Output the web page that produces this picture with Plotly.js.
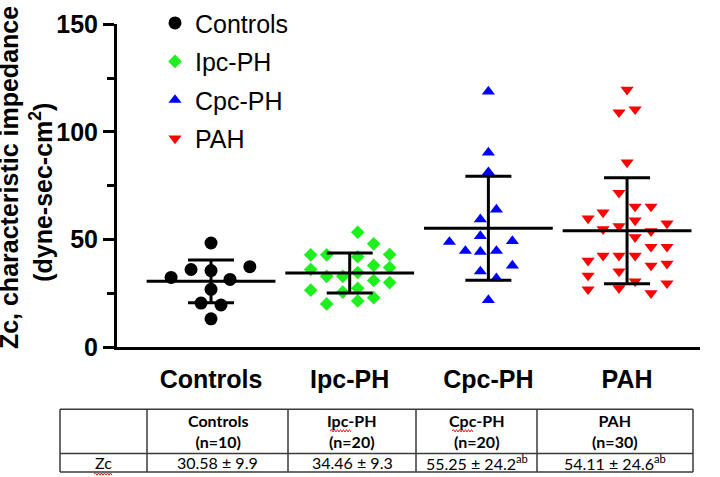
<!DOCTYPE html>
<html>
<head>
<meta charset="utf-8">
<script src="https://cdn.plot.ly/plotly-3.0.1.min.js"></script>
<style>
  html, body { margin: 0; padding: 0; background: #fff; }
  #plot { width: 720px; height: 477px; }
</style>
</head>
<body>
<div id="plot"></div>
<script>
// ---------------- data ----------------
const categories = ['Controls', 'Ipc-PH', 'Cpc-PH', 'PAH'];

const controlsY  = [48.4, 36.1, 35.6, 37.4, 32.4, 31.5, 26.9, 20.5, 19.6, 13.2];
const controlsDx = [0, -0.144, 0, 0.28, -0.288, 0.137, 0, -0.072, 0.072, 0];

const ipcY  = [42.9, 36.1, 26.5, 42.9, 32.9, 20.1, 32.9, 25.6, 53.4, 42.0, 34.7, 27.4, 21.5, 48, 38, 31, 23, 43, 37, 30];
const ipcDx = [-0.281, -0.281, -0.281, -0.166, -0.166, -0.166, -0.05, -0.05, 0.058, 0.058, 0.058, 0.058, 0.058, 0.173, 0.173, 0.173, 0.173, 0.288, 0.288, 0.288];

const cpcY  = [118.7, 90.4, 81.3, 63.9, 59.4, 51.6, 48.9, 49.3, 44.7, 44.3, 44.7, 37.9, 35.2, 32.0, 21.9];
const cpcDx = [0, 0, 0, 0.058, -0.058, -0.058, -0.281, 0.173, -0.166, -0.058, 0.058, 0.173, -0.058, 0.058, 0];

const pahY  = [119.6, 109.1, 110.5, 85.8, 71.7, 65.3, 65.3, 62.6, 59.8, 58.9, 56.2, 54.8, 57.5, 53.9, 51.1, 46.6, 46.6, 40.2, 42.5, 42.5, 42.5, 37.9, 38.8, 35.2, 33.3, 30.6, 29.7, 26.9, 27.4, 25.1];
const pahDx = [0, -0.058, 0.058, 0, -0.058, 0.058, 0.173, -0.173, -0.281, 0.058, -0.058, -0.173, 0.288, 0.173, 0.058, 0.173, 0.288, -0.281, -0.173, -0.058, 0.058, 0.173, 0.288, -0.058, -0.281, 0.058, 0.288, -0.281, -0.058, 0.173];

const meanVals = [30.58, 34.46, 55.25, 54.11];
const sdVals   = [9.9, 9.3, 24.2, 24.6];
const nVals    = [10, 20, 20, 30];
const sigMarks = ['', '', 'ab', 'ab'];
const rowLabel = 'Zc';

const yTickVals = [0, 50, 100, 150];
const yMinorVals = [25, 75, 125];

// ---------------- helpers ----------------
const W = 720, H = 477;
const px = x => x / W;
const py = y => 1 - y / H;
const FONT = 'Liberation Sans, Arial, sans-serif';
const TFONT = 'Lato, Carlito, Calibri, sans-serif';

function groupTrace(idx, ys, dxs, color, symbol, size) {
  return {
    type: 'scatter', mode: 'markers',
    name: categories[idx], legendgroup: categories[idx],
    x: dxs.map(d => idx + d), y: ys,
    marker: { color: color, symbol: symbol, size: size, line: { width: 0 } },
    cliponaxis: false
  };
}

const traces = [
  groupTrace(0, controlsY, controlsDx, '#000000', 'circle', 13),
  groupTrace(1, ipcY, ipcDx, '#1EF01E', 'diamond', 10.5),
  groupTrace(2, cpcY, cpcDx, '#0000FF', 'triangle-up', 11.5),
  groupTrace(3, pahY, pahDx, '#FF0000', 'triangle-down', 11.5),
  {
    type: 'scatter', mode: 'markers', showlegend: false,
    x: categories.map((c, i) => i), y: meanVals,
    marker: { symbol: 'line-ew', size: 92, color: '#000', line: { width: 3, color: '#000' } },
    error_y: { type: 'data', array: sdVals, visible: true, width: 23, thickness: 3, color: '#000' },
    cliponaxis: false
  }
];

// ---------------- table (shapes + annotations) ----------------
const colX = [60, 147, 288, 416, 537, 693];
const rowY = [408, 453, 472];
const shapes = [];
rowY.forEach(y => shapes.push({ type: 'line', xref: 'paper', yref: 'paper',
  x0: px(colX[0]), x1: px(colX[colX.length - 1]), y0: py(y), y1: py(y),
  line: { color: '#3a3a3a', width: 1.5 } }));
colX.forEach(x => shapes.push({ type: 'line', xref: 'paper', yref: 'paper',
  x0: px(x), x1: px(x), y0: py(rowY[0]), y1: py(rowY[rowY.length - 1]),
  line: { color: '#3a3a3a', width: 1.5 } }));

// spell-check squiggles under "Ipc", "Cpc" and "Zc"
function squiggle(x0, x1, y) {
  let d = 'M ' + px(x0) + ' ' + py(y);
  let up = true;
  for (let x = x0 + 1.5; x <= x1; x += 1.5) {
    d += ' L ' + px(x) + ' ' + py(y + (up ? -1.2 : 1.2));
    up = !up;
  }
  return { type: 'path', xref: 'paper', yref: 'paper', path: d, line: { color: '#e0201c', width: 1 } };
}
shapes.push(squiggle(330, 351, 430));
shapes.push(squiggle(452, 474, 430));
shapes.push(squiggle(94, 112, 474));

const annotations = [
  { text: '<b>Zc, characteristic impedance</b>', textangle: -90, showarrow: false,
    xref: 'paper', yref: 'paper', x: px(9), y: py(173), xanchor: 'center', yanchor: 'middle',
    font: { family: FONT, size: 25, color: '#000' } },
  { text: '<b>(dyne-sec-cm<sup>2</sup>)</b>', textangle: -90, showarrow: false,
    xref: 'paper', yref: 'paper', x: px(41), y: py(188), xanchor: 'center', yanchor: 'middle',
    font: { family: FONT, size: 25, color: '#000' } }
];

categories.forEach((c, i) => {
  const cx = (colX[i + 1] + colX[i + 2]) / 2;
  annotations.push({ text: '<b>' + c + '</b><br><b>(n=' + nVals[i] + ')</b>', showarrow: false,
    xref: 'paper', yref: 'paper', x: px(cx), y: py(430.5), xanchor: 'center', yanchor: 'middle',
    font: { family: TFONT, size: 16, color: '#000' } });
  annotations.push({ text: meanVals[i] + ' \u00B1 ' + sdVals[i] + (sigMarks[i] ? '<sup>' + sigMarks[i] + '</sup>' : ''),
    showarrow: false, xref: 'paper', yref: 'paper', x: px(cx), y: py(462.5),
    xanchor: 'center', yanchor: 'middle', font: { family: TFONT, size: 16, color: '#000' } });
});
annotations.push({ text: rowLabel, showarrow: false, xref: 'paper', yref: 'paper',
  x: px((colX[0] + colX[1]) / 2), y: py(462.5), xanchor: 'center', yanchor: 'middle',
  font: { family: TFONT, size: 16, color: '#000' } });

// ---------------- layout ----------------
const xLeftPx = 117, xRightPx = 700;
const layout = {
  width: W, height: H,
  margin: { l: 0, r: 0, t: 0, b: 0 },
  paper_bgcolor: '#fff', plot_bgcolor: '#fff',
  showlegend: true,
  legend: { x: px(155), y: py(-8), xanchor: 'left', yanchor: 'top',
    font: { family: FONT, size: 25, color: '#000' }, bgcolor: 'rgba(0,0,0,0)',
    tracegroupgap: 3, itemsizing: 'trace' },
  xaxis: {
    domain: [px(xLeftPx), px(xRightPx)],
    range: [-0.678, 3.526],
    tickmode: 'array', tickvals: categories.map((c, i) => i), ticktext: categories,
    showline: true, linecolor: '#000', linewidth: 3,
    ticks: '', showgrid: false, zeroline: false,
    tickfont: { family: FONT, size: 25, color: '#000', weight: 'bold' },
    ticklabelstandoff: 8
  },
  yaxis: {
    domain: [py(345), py(16.5)],
    range: [0, 150],
    tickmode: 'array', tickvals: yTickVals, ticktext: yTickVals.map(String),
    showline: true, linecolor: '#000', linewidth: 3,
    ticks: 'outside', ticklen: 11, tickwidth: 3, tickcolor: '#000',
    minor: { tickmode: 'array', tickvals: yMinorVals, ticks: 'outside', ticklen: 7, tickwidth: 3, tickcolor: '#000' },
    showgrid: false, zeroline: false,
    tickfont: { family: FONT, size: 25, color: '#000', weight: 'bold' },
    ticklabelstandoff: 0
  },
  shapes: shapes,
  annotations: annotations
};

Plotly.newPlot('plot', traces, layout, { staticPlot: true, displayModeBar: false });
</script>
</body>
</html>
